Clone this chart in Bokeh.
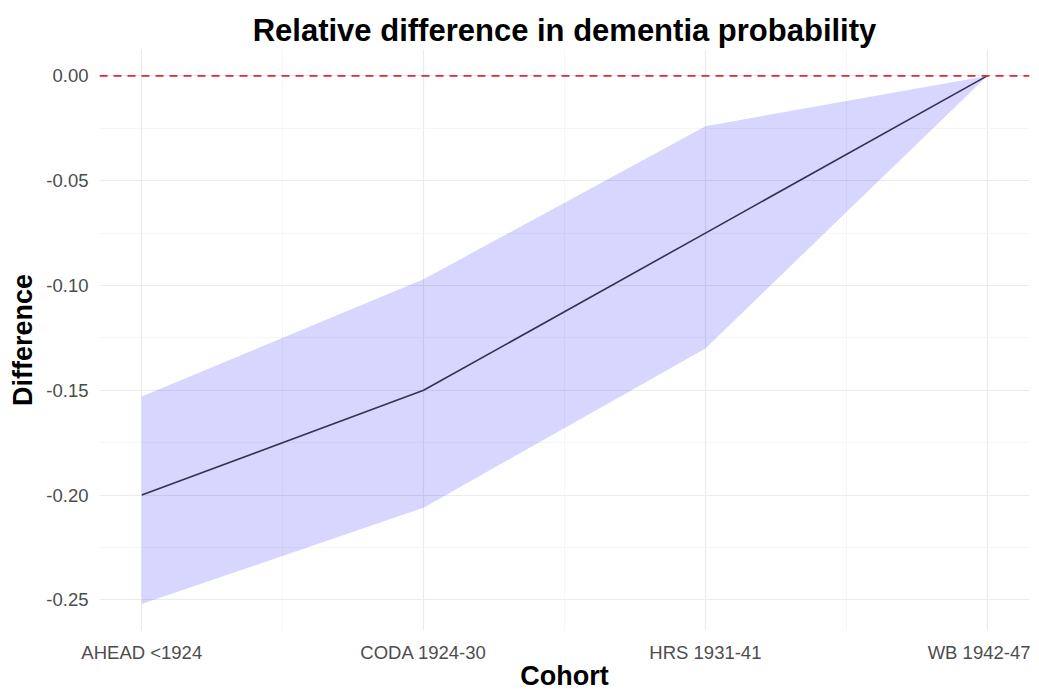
from bokeh.plotting import figure
from bokeh.models import FixedTicker, Span, Range1d, ColumnDataSource
from bokeh.embed import file_html
from bokeh.resources import INLINE

cohorts = ["AHEAD <1924", "CODA 1924-30", "HRS 1931-41", "WB 1942-47"]
difference = [-0.200, -0.150, -0.075, 0.0]
lower = [-0.252, -0.206, -0.130, 0.0]
upper = [-0.153, -0.097, -0.024, 0.0]

xs = list(range(1, len(cohorts) + 1))
src = ColumnDataSource(dict(x=xs, y=difference, lo=lower, hi=upper))

p = figure(width=1030, height=693, output_backend="svg", toolbar_location=None,
           x_range=Range1d(0.85, 4.15), y_range=Range1d(-0.2646, 0.0126),
           title="Relative difference in dementia probability",
           min_border_left=99, min_border_right=1, min_border_top=49, min_border_bottom=58)
p.outline_line_color = None
p.background_fill_color = "white"
p.border_fill_color = "white"

p.title.align = "center"
p.title.text_font = "Liberation Sans"
p.title.text_font_size = "31px"
p.title.text_font_style = "bold"
p.title.text_color = "#000000"
p.title.standoff = 3

p.varea(x="x", y1="lo", y2="hi", source=src, fill_color="blue", fill_alpha=0.16)
p.line(x="x", y="y", source=src, line_color="#33334d", line_width=1.6)
p.add_layout(Span(location=0, dimension="width", line_color="#d92b3a",
                  line_dash="8 6", line_width=1.8))

p.xaxis.ticker = FixedTicker(ticks=xs, minor_ticks=[1.5, 2.5, 3.5])
p.xaxis.major_label_overrides = {x: c for x, c in zip(xs, cohorts)}
p.yaxis.ticker = FixedTicker(ticks=[-0.25, -0.2, -0.15, -0.1, -0.05, 0.0],
                             minor_ticks=[-0.225, -0.175, -0.125, -0.075, -0.025])
p.yaxis.major_label_overrides = {-0.25: "-0.25", -0.2: "-0.20", -0.15: "-0.15",
                                 -0.1: "-0.10", -0.05: "-0.05", 0.0: "0.00"}

for ax in (p.xaxis[0], p.yaxis[0]):
    ax.axis_line_color = None
    ax.major_tick_line_color = None
    ax.minor_tick_line_color = None
    ax.major_tick_out = 0
    ax.minor_tick_out = 0
    ax.major_tick_in = 0
    ax.minor_tick_in = 0
    ax.major_label_text_font = "Liberation Sans"
    ax.major_label_text_font_size = "18.5px"
    ax.major_label_text_color = "#4d4d4d"
    ax.axis_label_text_font = "Liberation Sans"
    ax.axis_label_text_font_style = "bold"
    ax.axis_label_text_color = "#000000"

p.xaxis.axis_label = "Cohort"
p.yaxis.axis_label = "Difference"
p.xaxis.axis_label_text_font_size = "27px"
p.yaxis.axis_label_text_font_size = "27px"
p.xaxis.major_label_standoff = 11
p.yaxis.major_label_standoff = 11
p.xaxis.axis_label_standoff = -5
p.yaxis.axis_label_standoff = 5

for g in (p.xgrid[0], p.ygrid[0]):
    g.grid_line_color = "#ebebeb"
    g.grid_line_width = 1.2
    g.minor_grid_line_color = "#f4f4f4"
    g.minor_grid_line_width = 0.8

open("out.html", "w").write(file_html(p, INLINE))
